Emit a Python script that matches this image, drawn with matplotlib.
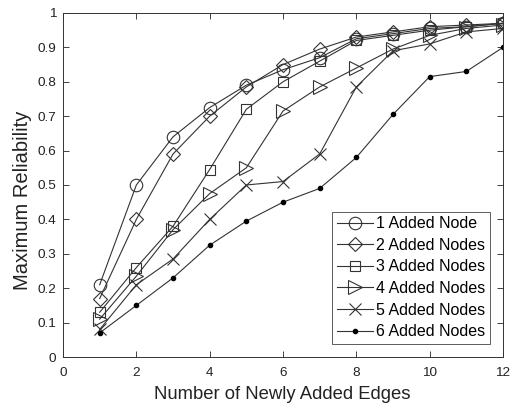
import matplotlib.pyplot as plt

plt.rcParams['font.family'] = ['Liberation Sans', 'DejaVu Sans']

edges = list(range(1, 13))
node1 = [0.21, 0.50, 0.64, 0.725, 0.79, 0.835, 0.87, 0.925, 0.94, 0.955, 0.96, 0.97]
node2 = [0.17, 0.40, 0.59, 0.70, 0.785, 0.85, 0.895, 0.93, 0.945, 0.96, 0.965, 0.97]
node3 = [0.13, 0.26, 0.38, 0.545, 0.72, 0.80, 0.86, 0.92, 0.935, 0.95, 0.96, 0.97]
node4 = [0.11, 0.235, 0.37, 0.475, 0.55, 0.715, 0.785, 0.84, 0.895, 0.935, 0.955, 0.965]
node5 = [0.08, 0.21, 0.285, 0.40, 0.50, 0.51, 0.59, 0.785, 0.89, 0.91, 0.945, 0.955]
node6 = [0.07, 0.15, 0.23, 0.325, 0.395, 0.45, 0.49, 0.58, 0.705, 0.815, 0.83, 0.90]
labels = ['1 Added Node', '2 Added Nodes', '3 Added Nodes',
          '4 Added Nodes', '5 Added Nodes', '6 Added Nodes']

fig = plt.figure(figsize=(5.14, 4.05), dpi=100)
ax = fig.add_axes([0.1226, 0.1185, 0.856, 0.8495])

col = '#333333'
hollow = dict(color=col, lw=0.8, markerfacecolor='none', markeredgecolor=col, markeredgewidth=0.8)
ax.plot(edges, node1, marker='o', markersize=9, label=labels[0], **hollow)
ax.plot(edges, node2, marker='D', markersize=7.5, label=labels[1], **hollow)
ax.plot(edges, node3, marker='s', markersize=7.5, label=labels[2], **hollow)
ax.plot(edges, node4, marker='>', markersize=10, label=labels[3], **hollow)
ax.plot(edges, node5, marker='x', markersize=8, label=labels[4], **hollow)
ax.plot(edges, node6, marker='.', markersize=6, color=col, lw=0.8,
        markerfacecolor='black', markeredgecolor='black', label=labels[5])

ax.set_xlim(0, 12)
ax.set_ylim(0, 1)
ax.set_xticks(range(0, 13, 2))
ax.set_yticks([i / 10 for i in range(11)])
ax.set_yticklabels(['0', '0.1', '0.2', '0.3', '0.4', '0.5', '0.6', '0.7', '0.8', '0.9', '1'])
ax.tick_params(direction='in', top=True, right=True, labelsize=9.7, colors='#222222',
               length=4, width=0.6)
ax.tick_params(axis='x', pad=7)
ax.tick_params(axis='y', pad=5)
for s in ax.spines.values():
    s.set_linewidth(0.7)
    s.set_color('#333333')

ax.set_xlabel('Number of Newly Added Edges', fontsize=13.3, color='#222222')
ax.set_ylabel('Maximum Reliability', fontsize=14.5, color='#222222')
ax.xaxis.set_label_coords(0.498, -0.085)
ax.yaxis.set_label_coords(-0.07, 0.456)

leg = ax.legend(loc='lower right', bbox_to_anchor=(0.970, 0.038), borderaxespad=0,
                fontsize=11.5, frameon=True, fancybox=False, edgecolor='#333333',
                handlelength=2.3, labelspacing=0.41, handletextpad=0.15, borderpad=0.3)
leg.get_frame().set_linewidth(0.7)

fig.savefig('out.png', dpi=100)
